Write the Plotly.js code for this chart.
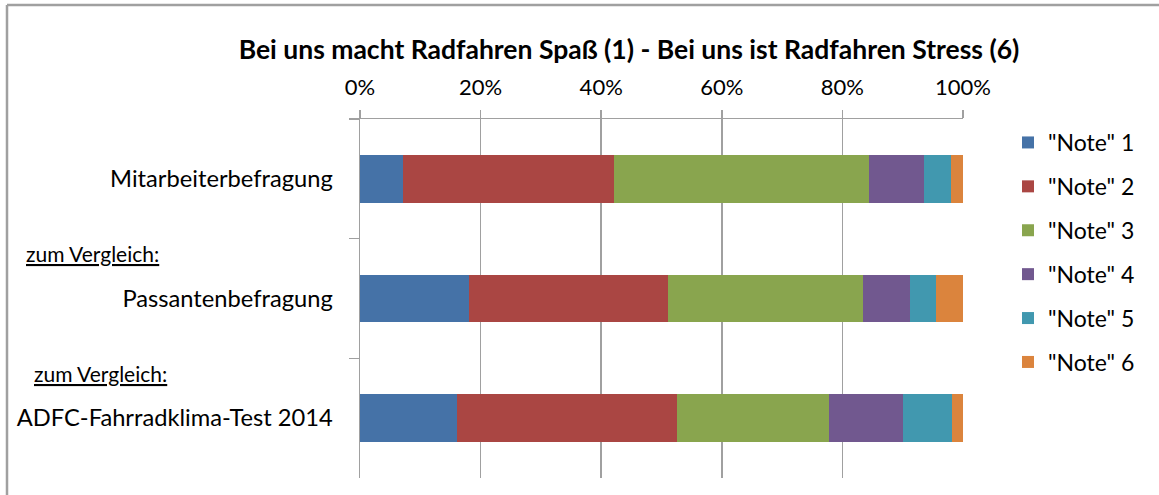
<!DOCTYPE html>
<html>
<head>
<meta charset="utf-8">
<script src="https://cdn.plot.ly/plotly-3.0.1.min.js"></script>
<style>html,body{margin:0;padding:0;background:#fff;}#chart{width:1159px;height:495px;}</style>
</head>
<body>
<div id="chart"></div>
<script>
const categories = ["Mitarbeiterbefragung", "Passantenbefragung", "ADFC-Fahrradklima-Test 2014"];
const seriesNames = ['"Note" 1', '"Note" 2', '"Note" 3', '"Note" 4', '"Note" 5', '"Note" 6'];
const note1 = [0.072, 0.180, 0.161];
const note2 = [0.350, 0.330, 0.365];
const note3 = [0.422, 0.324, 0.251];
const note4 = [0.091, 0.078, 0.124];
const note5 = [0.045, 0.043, 0.080];
const note6 = [0.020, 0.045, 0.019];
const xTickVals = [0, 0.2, 0.4, 0.6, 0.8, 1.0];
const xTickText = ["0%", "20%", "40%", "60%", "80%", "100%"];
const compareLabel = "zum Vergleich:";
const titleText = "Bei uns macht Radfahren Spaß (1) - Bei uns ist Radfahren Stress (6)";

const colors = ["#4572A7", "#AA4643", "#89A54E", "#71588F", "#4198AF", "#DB843D"];
const values = [note1, note2, note3, note4, note5, note6];
const FONT = "Lato, 'Open Sans', sans-serif";

const traces = values.map((v, i) => ({
  type: "bar",
  orientation: "h",
  name: seriesNames[i],
  y: categories,
  x: v,
  marker: { color: colors[i], line: { width: 0 } },
  legendgroup: "g" + i,
  hoverinfo: "name+x"
}));

const L = 360, R = 963, T = 119, B = 478, W = 1159, H = 495;
const px = (p) => (p - L) / (R - L);
const py = (p) => (B - p) / (B - T);

const layout = {
  width: W, height: H,
  margin: { l: L, r: W - R, t: T, b: H - B, pad: 0 },
  paper_bgcolor: "#fff",
  plot_bgcolor: "#fff",
  barmode: "stack",
  bargap: 0.6,
  font: { family: FONT, color: "#000" },
  title: {
    text: "<b>" + titleText + "</b>",
    font: { family: FONT, size: 26.5, color: "#000" },
    x: 629 / W, xanchor: "center",
    y: 1 - 50 / H, yanchor: "middle"
  },
  xaxis: {
    side: "top",
    range: [0, 1],
    tickvals: xTickVals,
    ticktext: xTickText,
    showgrid: true,
    gridcolor: "#a0a0a0",
    gridwidth: 1.5,
    showline: true,
    linecolor: "#a0a0a0",
    linewidth: 1.5,
    ticks: "outside",
    ticklen: 8,
    tickcolor: "#a0a0a0",
    tickwidth: 1.5,
    ticklabelstandoff: 6,
    tickfont: { family: FONT, size: 22, color: "#000" },
    zeroline: false,
    fixedrange: true
  },
  yaxis: {
    type: "category",
    categoryorder: "array",
    categoryarray: categories,
    autorange: "reversed",
    showgrid: false,
    showline: true,
    linecolor: "#a0a0a0",
    linewidth: 1.5,
    ticks: "outside",
    tickson: "boundaries",
    ticklen: 10,
    tickcolor: "#a0a0a0",
    tickwidth: 1.5,
    ticklabelstandoff: 21,
    tickfont: { family: FONT, size: 23.7, color: "#000" },
    zeroline: false,
    fixedrange: true
  },
  legend: {
    x: px(1008), xanchor: "left",
    y: py(121), yanchor: "top",
    traceorder: "grouped",
    tracegroupgap: 11,
    font: { family: FONT, size: 23, color: "#000" },
    itemwidth: 30,
    bgcolor: "rgba(0,0,0,0)"
  },
  annotations: [
    { xref: "paper", yref: "paper", x: px(24), y: py(253), xanchor: "left", yanchor: "middle",
      text: "<u>" + compareLabel + "</u>", showarrow: false, font: { family: FONT, size: 21, color: "#000" } },
    { xref: "paper", yref: "paper", x: px(32), y: py(373), xanchor: "left", yanchor: "middle",
      text: "<u>" + compareLabel + "</u>", showarrow: false, font: { family: FONT, size: 21, color: "#000" } }
  ],
  shapes: [
    { type: "line", xref: "paper", yref: "paper", x0: px(7), x1: px(1170), y0: py(5), y1: py(5),
      line: { color: "#a0a0a0", width: 2.5 } },
    { type: "line", xref: "paper", yref: "paper", x0: px(7), x1: px(7), y0: py(5), y1: py(500),
      line: { color: "#a0a0a0", width: 2.5 } }
  ],
  showlegend: true
};

Plotly.newPlot("chart", traces, layout, { displayModeBar: false, staticPlot: true });
</script>
</body>
</html>
